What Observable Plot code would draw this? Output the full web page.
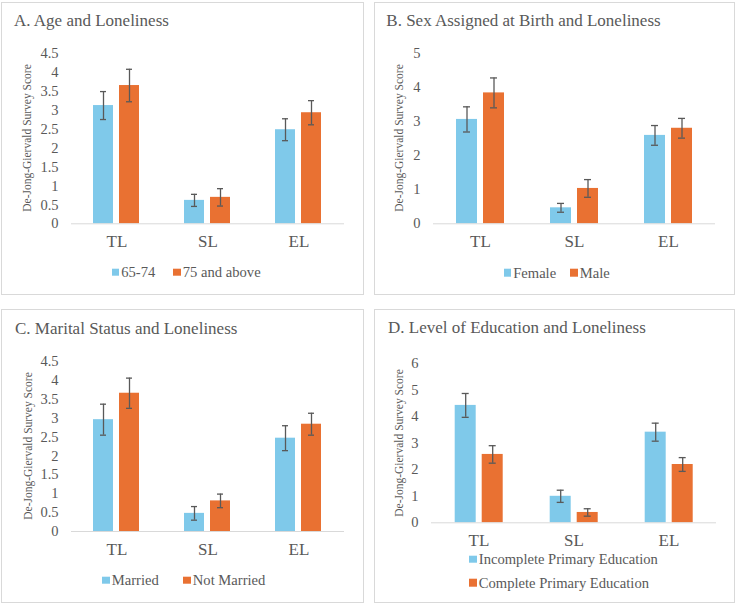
<!DOCTYPE html>
<html>
<head>
<meta charset="utf-8">
<script src="https://cdn.jsdelivr.net/npm/d3@7"></script>
<script src="https://cdn.jsdelivr.net/npm/@observablehq/plot@0.6"></script>
<style>
  html, body { margin: 0; padding: 0; background: #fff; }
  body { width: 737px; height: 604px; position: relative; overflow: hidden; font-family: 'Liberation Serif', serif; color: #595959; }
  .panel { position: absolute; box-sizing: border-box; border: 1px solid #d9d9d9; background: #fff; }
  .panel svg { position: absolute; left: 0; top: 0; overflow: visible; }
  .panel svg text { font-family: 'Liberation Serif', serif; }
  .title { position: absolute; font-family: 'Liberation Serif', serif; font-size: 17px; line-height: 1; white-space: nowrap; color: #595959; }
  .ytitle { position: absolute; font-family: 'Liberation Serif', serif; font-size: 11.5px; line-height: 1; white-space: nowrap; transform: translate(-50%, -50%) rotate(-90deg); color: #595959; }
  .leg { position: absolute; font-family: 'Liberation Serif', serif; font-size: 14.6px; line-height: 1; white-space: nowrap; display: flex; align-items: center; color: #595959; transform: translateY(-50%); }
  .sw { width: 7.5px; height: 7.5px; margin-right: 2px; display: inline-block; }
</style>
</head>
<body>
<script>
// ---- data ----
const categories = ["TL", "SL", "EL"];
const colors = ["#7fc9ea", "#e97132"];

const ageGroups = ["65-74", "75 and above"];
const ageMeans = [[3.13, 0.62, 2.49], [3.66, 0.70, 2.94]];
const ageErrors = [[0.37, 0.16, 0.29], [0.43, 0.23, 0.32]];
const ageTicks = [0, 0.5, 1, 1.5, 2, 2.5, 3, 3.5, 4, 4.5];

const sexGroups = ["Female", "Male"];
const sexMeans = [[3.07, 0.47, 2.60], [3.85, 1.04, 2.81]];
const sexErrors = [[0.37, 0.13, 0.29], [0.44, 0.26, 0.29]];
const sexTicks = [0, 1, 2, 3, 4, 5];

const maritalGroups = ["Married", "Not Married"];
const maritalMeans = [[2.96, 0.48, 2.47], [3.66, 0.81, 2.84]];
const maritalErrors = [[0.41, 0.18, 0.33], [0.40, 0.18, 0.29]];
const maritalTicks = [0, 0.5, 1, 1.5, 2, 2.5, 3, 3.5, 4, 4.5];

const eduGroups = ["Incomplete Primary Education", "Complete Primary Education"];
const eduMeans = [[4.43, 1.00, 3.42], [2.58, 0.39, 2.20]];
const eduErrors = [[0.45, 0.23, 0.34], [0.33, 0.14, 0.26]];
const eduTicks = [0, 1, 2, 3, 4, 5, 6];

const yTitle = "De-Jong-Giervald Survey Score";

// ---- layout ----
const panels = [
  { title: "A. Age and Loneliness", series: ageGroups, means: ageMeans, errs: ageErrors, ticks: ageTicks,
    box: [1, 2, 363, 293], titlePos: [12, 9.2], yTitlePos: [26, 135],
    width: 361, height: 260, mt: 50.3, mb: 39.7, ml: 68, mr: 18,
    legend: [[109.7, 269], [171.3, 269]] },
  { title: "B. Sex Assigned at Birth and Loneliness", series: sexGroups, means: sexMeans, errs: sexErrors, ticks: sexTicks,
    box: [374, 2, 361, 293], titlePos: [11.3, 9.2], yTitlePos: [25.3, 135],
    width: 359, height: 260, mt: 50.3, mb: 39.7, ml: 57, mr: 18.7,
    legend: [[128.7, 269.7], [195.3, 269.7]] },
  { title: "C. Marital Status and Loneliness", series: maritalGroups, means: maritalMeans, errs: maritalErrors, ticks: maritalTicks,
    box: [1, 309, 363, 294], titlePos: [13, 9.8], yTitlePos: [27, 136],
    width: 361, height: 260, mt: 51, mb: 39, ml: 68, mr: 18,
    legend: [[100.3, 270.3], [181.3, 270.3]] },
  { title: "D. Level of Education and Loneliness", series: eduGroups, means: eduMeans, errs: eduErrors, ticks: eduTicks,
    box: [374, 309, 361, 294], titlePos: [13, 8.8], yTitlePos: [25, 132.8],
    width: 359, height: 250, mt: 53.3, mb: 37.7, ml: 55.3, mr: 17,
    legend: [[94.3, 249.3], [94.3, 272.7]] }
];

function buildRows(series, means, errs) {
  const rows = [];
  series.forEach((s, i) => categories.forEach((c, j) => {
    rows.push({ cat: c, series: s, value: means[i][j], err: errs[i][j] });
  }));
  return rows;
}

for (const p of panels) {
  const div = document.createElement("div");
  div.className = "panel";
  div.style.left = p.box[0] + "px";
  div.style.top = p.box[1] + "px";
  div.style.width = p.box[2] + "px";
  div.style.height = p.box[3] + "px";
  document.body.appendChild(div);

  const rows = buildRows(p.series, p.means, p.errs);
  const yMax = p.ticks[p.ticks.length - 1];

  const chart = Plot.plot({
    width: p.width,
    height: p.height,
    marginTop: p.mt,
    marginBottom: p.mb,
    marginLeft: p.ml,
    marginRight: p.mr,
    style: { fontFamily: "'Liberation Serif', serif", fontSize: "14px", color: "#595959", background: "transparent" },
    fx: { domain: categories, padding: 0, axis: null, label: null },
    x: { domain: p.series, axis: null, paddingInner: 0.22, paddingOuter: 0.83 },
    y: { domain: [0, yMax], axis: null },
    color: { domain: p.series, range: colors },
    marks: [
      Plot.axisY({ ticks: p.ticks, tickSize: 0, tickPadding: 13, label: null, tickFormat: d => String(d), fontSize: 14.5, fill: "#595959" }),
      Plot.axisFx({ anchor: "bottom", tickSize: 0, tickPadding: 11, label: null, fontSize: 17, fill: "#595959" }),
      Plot.barY(rows, { fx: "cat", x: "series", y: "value", fill: "series" }),
      Plot.ruleY([0], { stroke: "#d9d9d9", strokeWidth: 1 }),
      Plot.ruleX(rows, { fx: "cat", x: "series", y1: d => d.value - d.err, y2: d => d.value + d.err, stroke: "#595959", strokeWidth: 1.3 }),
      Plot.tickY(rows, { fx: "cat", x: "series", y: d => d.value + d.err, stroke: "#595959", strokeWidth: 1.3, insetLeft: 7, insetRight: 7 }),
      Plot.tickY(rows, { fx: "cat", x: "series", y: d => d.value - d.err, stroke: "#595959", strokeWidth: 1.3, insetLeft: 7, insetRight: 7 })
    ]
  });
  div.appendChild(chart);

  const t = document.createElement("div");
  t.className = "title";
  t.textContent = p.title;
  t.style.left = p.titlePos[0] + "px";
  t.style.top = p.titlePos[1] + "px";
  div.appendChild(t);

  const yt = document.createElement("div");
  yt.className = "ytitle";
  yt.textContent = yTitle;
  yt.style.left = p.yTitlePos[0] + "px";
  yt.style.top = p.yTitlePos[1] + "px";
  div.appendChild(yt);

  p.series.forEach((s, i) => {
    const lg = document.createElement("div");
    lg.className = "leg";
    lg.style.left = p.legend[i][0] + "px";
    lg.style.top = p.legend[i][1] + "px";
    const sw = document.createElement("span");
    sw.className = "sw";
    sw.style.background = colors[i];
    lg.appendChild(sw);
    lg.appendChild(document.createTextNode(s));
    div.appendChild(lg);
  });
}
</script>
</body>
</html>
